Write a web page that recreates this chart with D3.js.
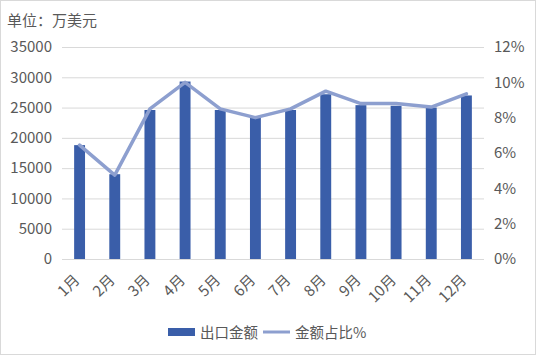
<!DOCTYPE html>
<html><head><meta charset="utf-8">
<script src="https://cdn.jsdelivr.net/npm/d3@7"></script>
<style>body{margin:0;background:#fff}svg{display:block}text{font-family:"Noto Sans CJK SC","Noto Sans",sans-serif}</style>
</head><body><svg id="c" width="536" height="355"></svg>
<script>
const months = ["1月","2月","3月","4月","5月","6月","7月","8月","9月","10月","11月","12月"];
const exportValues = [18800,14000,24600,29300,24600,23400,24600,27200,25400,25300,25000,27000];
const sharePct = [6.45,4.75,8.5,10.0,8.5,8.0,8.5,9.5,8.8,8.8,8.6,9.35];
const leftTicks = [0,5000,10000,15000,20000,25000,30000,35000];
const rightTicks = [0,2,4,6,8,10,12];
const legendLabels = ["出口金额","金额占比%"];
const unitLabel = "单位：万美元";

const svg = d3.select("#c");
const W=536,H=355;
const m={l:62,r:484,t:47,b:259};
svg.append("rect").attr("x",0.5).attr("y",0.5).attr("width",W-1).attr("height",H-1).attr("fill","#fff").attr("stroke","#d9d9d9");

const x = d3.scaleBand().domain(months).range([m.l,m.r]).paddingInner(0.69).paddingOuter(0.345);
const y = d3.scaleLinear().domain([0,35000]).range([m.b,m.t]);
const y2 = d3.scaleLinear().domain([0,12]).range([m.b,m.t]);

// gridlines
svg.append("g").selectAll("line").data(leftTicks).join("line")
 .attr("x1",m.l).attr("x2",m.r).attr("y1",d=>y(d)+0.5).attr("y2",d=>y(d)+0.5)
 .attr("stroke","#d9d9d9").attr("stroke-width",1);

const fc="#595959";
// left axis
const ax = d3.axisLeft(y).tickValues(leftTicks).tickFormat(d3.format("d")).tickSize(0).tickPadding(10);
const gl = svg.append("g").attr("transform",`translate(${m.l},0)`).call(ax);
gl.select(".domain").remove();
gl.selectAll("text").attr("font-size",15).attr("fill",fc).attr("font-family","'Noto Sans','Open Sans',sans-serif");

// right axis
const ax2 = d3.axisRight(y2).tickValues(rightTicks).tickFormat(d=>d+"%").tickSize(0).tickPadding(10);
const gr = svg.append("g").attr("transform",`translate(${m.r},0)`).call(ax2);
gr.select(".domain").remove();
gr.selectAll("text").attr("font-size",15).attr("fill",fc).attr("font-family","'Noto Sans','Open Sans',sans-serif");

// bars
svg.append("g").selectAll("rect").data(months).join("rect")
 .attr("x",d=>x(d)).attr("width",x.bandwidth())
 .attr("y",(d,i)=>y(exportValues[i])).attr("height",(d,i)=>y(0)-y(exportValues[i]))
 .attr("fill","#3a5ea9");

// line
const line = d3.line().x((d,i)=>x(months[i])+x.bandwidth()/2).y(d=>y2(d));
svg.append("path").datum(sharePct).attr("d",line).attr("fill","none")
 .attr("stroke","#8d9fcf").attr("stroke-width",3.5).attr("stroke-linejoin","round").attr("stroke-linecap","round");

// x labels
const gx = d3.axisBottom(x).tickSize(0).tickPadding(0);
const gxg = svg.append("g").attr("transform",`translate(0,${m.b})`).call(gx);
gxg.select(".domain").remove();
gxg.selectAll("text").attr("font-size",15).attr("fill",fc)
 .attr("text-anchor","end").attr("dy",0)
 .attr("transform","translate(1,22) rotate(-45)");

// unit label
svg.append("text").attr("x",7).attr("y",26).attr("font-size",15).attr("fill",fc).text(unitLabel);

// legend
const lg = svg.append("g");
lg.append("rect").attr("x",168).attr("y",328).attr("width",27).attr("height",8).attr("fill","#3a5ea9");
lg.append("text").attr("x",200).attr("y",337.5).attr("font-size",14.5).attr("fill",fc).text(legendLabels[0]);
lg.append("line").attr("x1",263).attr("x2",290).attr("y1",332).attr("y2",332).attr("stroke","#8d9fcf").attr("stroke-width",3);
lg.append("text").attr("x",295).attr("y",337.5).attr("font-size",14.5).attr("fill",fc).text(legendLabels[1]);
</script></body></html>
